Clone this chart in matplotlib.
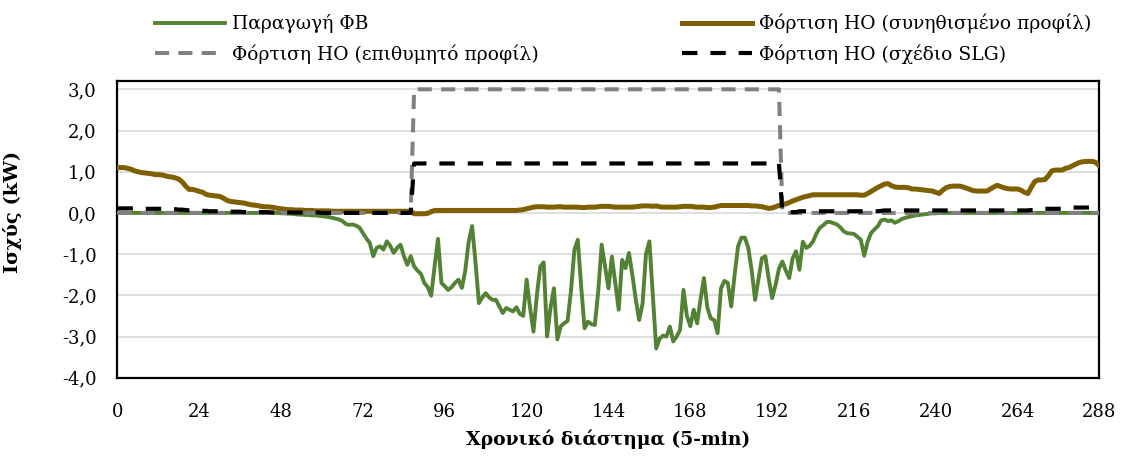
import numpy as np
import matplotlib.pyplot as plt
from matplotlib.ticker import FuncFormatter

plt.rcParams['font.family'] = ['DejaVu Serif', 'Liberation Serif']

# 5-min steps over one day (0..288)
steps = np.arange(289)

# PV production (kW, negative = generation)
pv = [
    0.0, 0.0, 0.0, 0.0, 0.0, 0.0, 0.0, 0.0, 0.0, 0.0, 0.0, 0.0,
    0.0, 0.0, 0.0, 0.0, 0.0, 0.0, 0.0, 0.0, 0.0, 0.0, 0.0, 0.0,
    0.0, 0.0, 0.0, 0.0, 0.0, 0.0, 0.0, 0.0, 0.0, 0.0, 0.0, 0.0,
    0.0, 0.0, 0.0, 0.0, 0.0, 0.0, 0.0, 0.0, 0.0, 0.0, 0.0, 0.0,
    -0.01, -0.01, -0.02, -0.02, -0.03, -0.04, -0.04, -0.05, -0.05, -0.06, -0.06, -0.07,
    -0.08, -0.09, -0.10, -0.12, -0.14, -0.16, -0.20, -0.27, -0.29, -0.28, -0.31, -0.36,
    -0.49, -0.62, -0.73, -1.05, -0.85, -0.81, -0.89, -0.69, -0.80, -0.97, -0.85, -0.77,
    -1.05, -1.26, -1.05, -1.30, -1.40, -1.48, -1.70, -1.80, -2.01, -1.30, -0.63, -1.70,
    -1.78, -1.87, -1.80, -1.70, -1.62, -1.82, -1.40, -0.70, -0.32, -1.20, -2.19, -2.05,
    -1.95, -2.05, -2.11, -2.11, -2.27, -2.43, -2.31, -2.35, -2.39, -2.29, -2.45, -2.50,
    -1.62, -2.30, -2.88, -2.00, -1.30, -1.20, -3.00, -2.30, -1.83, -3.07, -2.75, -2.68,
    -2.62, -1.90, -0.90, -0.65, -1.80, -2.80, -2.64, -2.70, -2.72, -1.90, -0.77, -1.30,
    -1.83, -1.06, -1.70, -2.35, -1.14, -1.34, -0.97, -1.50, -2.10, -2.60, -2.20, -1.00,
    -0.69, -2.00, -3.29, -3.05, -2.98, -3.00, -2.76, -3.12, -3.00, -2.84, -1.87, -2.50,
    -2.75, -2.35, -2.68, -2.10, -1.58, -2.30, -2.56, -2.60, -2.92, -1.83, -1.65, -1.70,
    -2.27, -1.50, -0.81, -0.60, -0.60, -0.85, -1.40, -2.11, -1.60, -1.10, -1.05, -1.60,
    -2.07, -1.75, -1.35, -1.18, -1.40, -1.58, -1.10, -0.93, -1.38, -0.70, -0.85, -0.80,
    -0.69, -0.50, -0.36, -0.30, -0.22, -0.22, -0.25, -0.28, -0.35, -0.45, -0.49, -0.50,
    -0.51, -0.58, -0.65, -1.04, -0.70, -0.49, -0.40, -0.32, -0.18, -0.16, -0.20, -0.18,
    -0.24, -0.20, -0.15, -0.12, -0.10, -0.08, -0.06, -0.05, -0.04, -0.03, -0.02, -0.01,
    -0.01, 0.0, 0.0, 0.0, 0.0, 0.0, 0.0, 0.0, 0.0, 0.0, 0.0, 0.0,
    0.0, 0.0, 0.0, 0.0, 0.0, 0.0, 0.0, 0.0, 0.0, 0.0, 0.0, 0.0,
    0.0, 0.0, 0.0, 0.0, 0.0, 0.0, 0.0, 0.0, 0.0, 0.0, 0.0, 0.0,
    0.0, 0.0, 0.0, 0.0, 0.0, 0.0, 0.0, 0.0, 0.0, 0.0, 0.0, 0.0,
    0.0,
]

# EV charging, usual profile (kW)
load_usual = [
    1.10, 1.10, 1.10, 1.08, 1.06, 1.02, 1.00, 0.98, 0.97, 0.96, 0.95, 0.93,
    0.93, 0.92, 0.90, 0.88, 0.87, 0.85, 0.82, 0.75, 0.65, 0.57, 0.57, 0.55,
    0.52, 0.50, 0.45, 0.43, 0.42, 0.41, 0.40, 0.36, 0.31, 0.28, 0.27, 0.26,
    0.25, 0.24, 0.22, 0.20, 0.19, 0.18, 0.16, 0.15, 0.15, 0.14, 0.13, 0.11,
    0.10, 0.09, 0.08, 0.08, 0.07, 0.07, 0.07, 0.06, 0.06, 0.06, 0.05, 0.05,
    0.05, 0.05, 0.05, 0.04, 0.04, 0.04, 0.04, 0.04, 0.04, 0.04, 0.04, 0.04,
    0.04, 0.04, 0.04, 0.04, 0.04, 0.04, 0.04, 0.04, 0.04, 0.04, 0.04, 0.04,
    0.04, 0.04, 0.04, -0.02, -0.02, -0.02, -0.02, -0.01, 0.03, 0.06, 0.06, 0.06,
    0.06, 0.06, 0.06, 0.06, 0.06, 0.06, 0.06, 0.06, 0.06, 0.06, 0.06, 0.06,
    0.06, 0.06, 0.06, 0.06, 0.06, 0.06, 0.06, 0.06, 0.06, 0.06, 0.07, 0.08,
    0.10, 0.12, 0.14, 0.15, 0.15, 0.15, 0.14, 0.14, 0.14, 0.15, 0.15, 0.14,
    0.14, 0.14, 0.14, 0.14, 0.13, 0.13, 0.14, 0.14, 0.14, 0.15, 0.16, 0.16,
    0.16, 0.15, 0.14, 0.14, 0.14, 0.14, 0.14, 0.14, 0.15, 0.16, 0.17, 0.17,
    0.17, 0.16, 0.17, 0.15, 0.14, 0.14, 0.14, 0.14, 0.14, 0.15, 0.16, 0.16,
    0.16, 0.15, 0.14, 0.14, 0.14, 0.13, 0.13, 0.14, 0.16, 0.18, 0.18, 0.18,
    0.18, 0.18, 0.18, 0.18, 0.18, 0.18, 0.17, 0.17, 0.16, 0.15, 0.13, 0.11,
    0.12, 0.15, 0.18, 0.20, 0.22, 0.25, 0.29, 0.32, 0.35, 0.38, 0.40, 0.42,
    0.44, 0.44, 0.44, 0.44, 0.44, 0.44, 0.44, 0.44, 0.44, 0.44, 0.44, 0.44,
    0.44, 0.44, 0.43, 0.43, 0.47, 0.52, 0.57, 0.62, 0.66, 0.70, 0.71, 0.66,
    0.63, 0.62, 0.62, 0.62, 0.61, 0.58, 0.58, 0.57, 0.56, 0.55, 0.54, 0.53,
    0.50, 0.47, 0.55, 0.61, 0.64, 0.65, 0.65, 0.65, 0.63, 0.60, 0.57, 0.54,
    0.53, 0.53, 0.53, 0.53, 0.58, 0.63, 0.67, 0.64, 0.61, 0.59, 0.58, 0.58,
    0.58, 0.55, 0.50, 0.47, 0.62, 0.76, 0.80, 0.80, 0.81, 0.90, 1.02, 1.04,
    1.04, 1.04, 1.08, 1.10, 1.14, 1.18, 1.22, 1.24, 1.25, 1.25, 1.25, 1.22,
    1.14,
]

# EV charging, desired profile: 3 kW between steps 87 and 194
load_desired = [0.0] * 87 + [3.0] * 108 + [0.0] * 94

# EV charging, SLG schedule
slg_morning = [
    0.11, 0.11, 0.11, 0.11, 0.11, 0.11, 0.10, 0.10, 0.10, 0.10, 0.10, 0.10,
    0.10, 0.10, 0.09, 0.09, 0.09, 0.09, 0.08, 0.08, 0.07, 0.06, 0.06, 0.06,
    0.05, 0.05, 0.05, 0.04, 0.04, 0.04, 0.04, 0.04, 0.03, 0.03, 0.03, 0.03,
    0.03, 0.02, 0.02, 0.02, 0.02, 0.02, 0.02, 0.02, 0.02, 0.01, 0.01, 0.01,
    0.01, 0.01, 0.01, 0.01, 0.01, 0.01, 0.01, 0.01, 0.01, 0.01, 0.01, 0.01,
    0.0, 0.0, 0.0, 0.0, 0.0, 0.0, 0.0, 0.0, 0.0, 0.0, 0.0, 0.0,
    0.0, 0.0, 0.0, 0.0, 0.0, 0.0, 0.0, 0.0, 0.0, 0.0, 0.0, 0.0,
    0.0, 0.0, 0.0,
]
slg_day = [1.2] * 108
slg_evening = [
    0.02, 0.02, 0.02, 0.02, 0.02, 0.04, 0.04, 0.04, 0.04, 0.04, 0.04, 0.04,
    0.04, 0.04, 0.04, 0.04, 0.04, 0.04, 0.04, 0.04, 0.04, 0.04, 0.04, 0.04,
    0.04, 0.04, 0.04, 0.04, 0.04, 0.05, 0.06, 0.06, 0.06, 0.06, 0.06, 0.06,
    0.06, 0.06, 0.06, 0.06, 0.06, 0.06, 0.06, 0.06, 0.06, 0.06, 0.06, 0.06,
    0.06, 0.06, 0.06, 0.06, 0.06, 0.06, 0.06, 0.06, 0.06, 0.06, 0.06, 0.06,
    0.06, 0.06, 0.06, 0.06, 0.06, 0.06, 0.06, 0.06, 0.06, 0.06, 0.06, 0.06,
    0.06, 0.07, 0.07, 0.07, 0.07, 0.10, 0.10, 0.10, 0.10, 0.10, 0.11, 0.11,
    0.11, 0.13, 0.13, 0.13, 0.13, 0.13, 0.13, 0.13, 0.13, 0.12,
]
load_slg = slg_morning + slg_day + slg_evening

x_ticks = list(range(0, 289, 24))
y_ticks = [-4, -3, -2, -1, 0, 1, 2, 3]

fig = plt.figure(figsize=(11.21, 4.57), dpi=100)
ax = fig.add_axes([0.1048, 0.1735, 0.876, 0.6482])

ax.plot(steps, pv, color='#548235', lw=2.8, label='Παραγωγή ΦΒ', zorder=3)
ax.plot(steps, load_usual, color='#7F6000', lw=3.6,
        label='Φόρτιση ΗΟ (συνηθισμένο προφίλ)', zorder=4)
ax.plot(steps, load_desired, color='#808080', lw=2.9, ls=(0, (3.5, 2.3)),
        dash_capstyle='butt', label='Φόρτιση ΗΟ (επιθυμητό προφίλ)', zorder=5)
ax.plot(steps, load_slg, color='black', lw=3.0, ls=(0, (3.7, 3.1)),
        dash_capstyle='butt', label='Φόρτιση ΗΟ (σχέδιο SLG)', zorder=6)

ax.set_xlim(0, 288)
ax.set_ylim(-4, 3.19)
ax.set_xticks(x_ticks)
ax.set_yticks(y_ticks)
ax.yaxis.set_major_formatter(FuncFormatter(lambda v, p: f'{v:.1f}'.replace('.', ',')))
ax.tick_params(axis='both', length=0, labelsize=13)
ax.tick_params(axis='y', pad=15)
ax.tick_params(axis='x', pad=18)
ax.grid(axis='y', color='#D9D9D9', lw=1.2, zorder=0)
for s in ax.spines.values():
    s.set_color('black')
    s.set_linewidth(1.6)

ax.set_ylabel('Ισχύς (kW)', fontsize=14, fontweight='bold')
ax.yaxis.set_label_coords(-0.097, 0.56)
ax.set_xlabel('Χρονικό διάστημα (5-min)', fontsize=13.5, fontweight='bold', labelpad=6)

h, l = ax.get_legend_handles_labels()
order = [0, 2, 1, 3]
ax.legend([h[i] for i in order], [l[i] for i in order], ncol=2,
          loc='upper left', bbox_to_anchor=(0.135, 0.978), bbox_transform=fig.transFigure,
          frameon=False, fontsize=13.5, handlelength=3.75, handletextpad=0.37,
          columnspacing=7.6, labelspacing=0.58, borderpad=0.2, borderaxespad=0)

fig.savefig('out.png', dpi=100)
